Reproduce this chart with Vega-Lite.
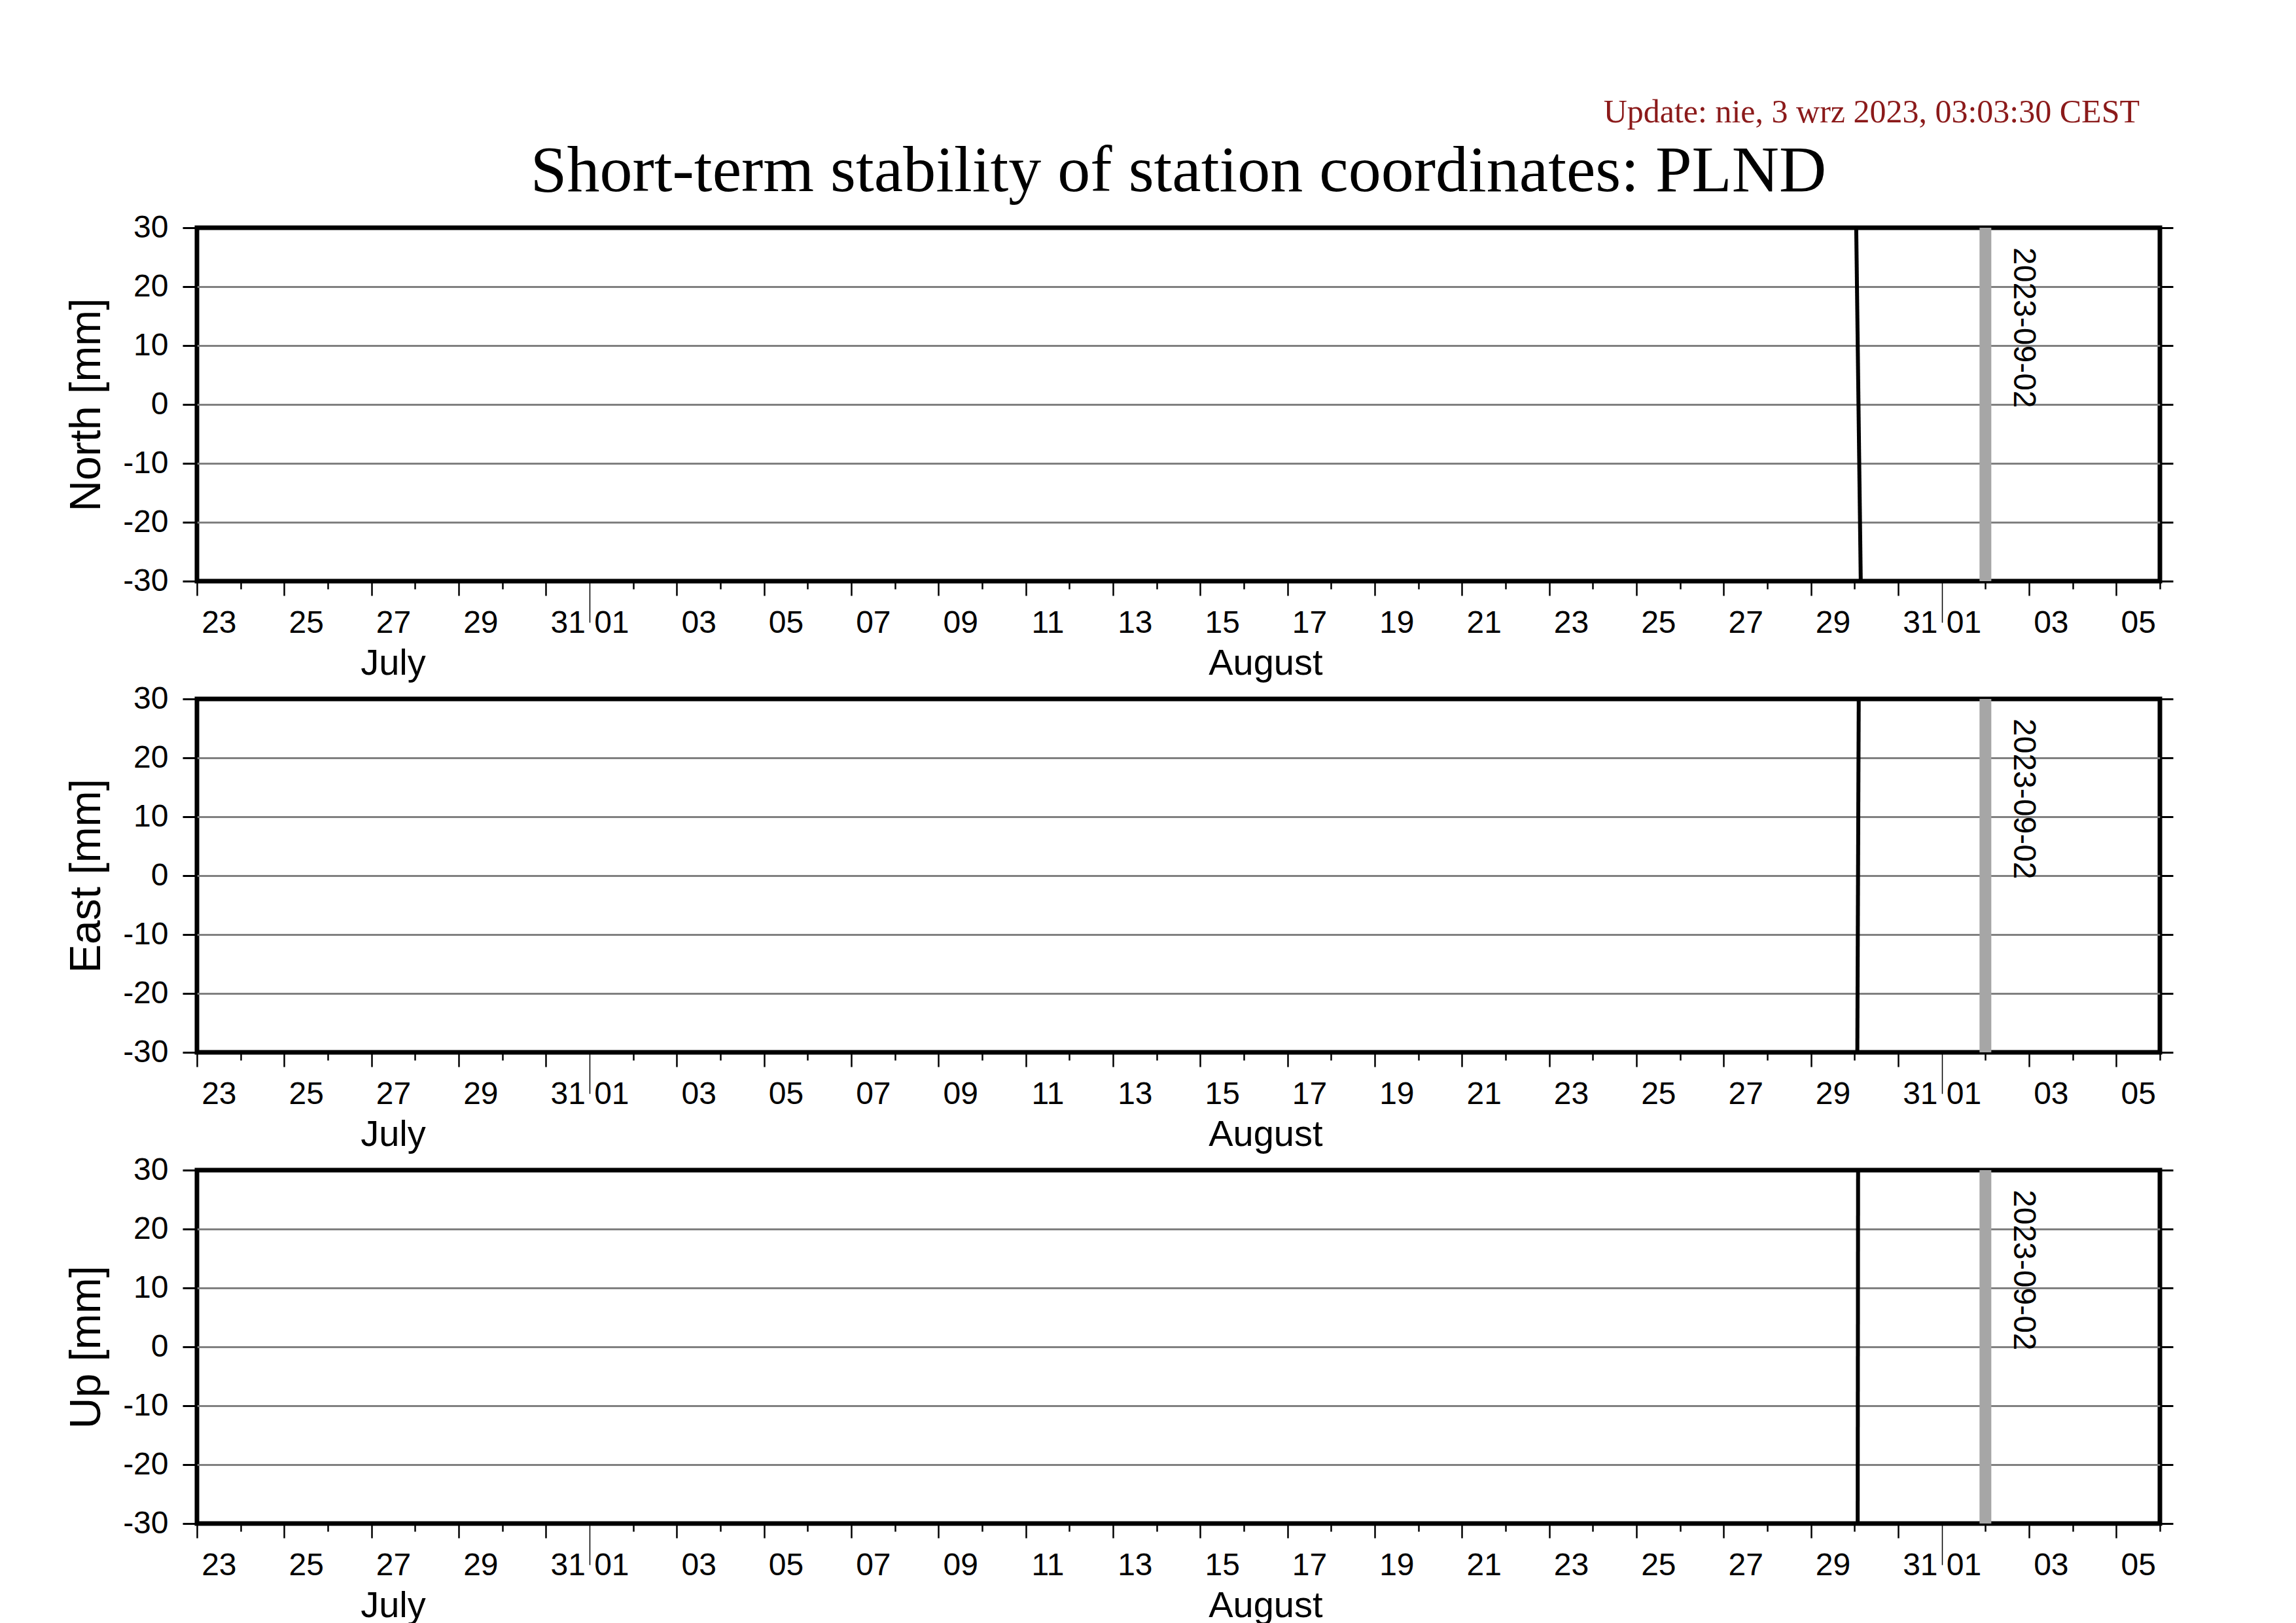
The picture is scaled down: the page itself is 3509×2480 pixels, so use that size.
{
  "$schema": "https://vega.github.io/schema/vega-lite/v6.json",
  "background": "white",
  "padding": {"left": 96, "top": 146, "right": 20, "bottom": 0},
  "title": {"text": "Update: nie, 3 wrz 2023, 03:03:30 CEST", "anchor": "end", "font": "Liberation Serif", "fontSize": 50, "fontWeight": "normal", "color": "#8b1a1a", "dx": -56, "offset": 12},
  "datasets": {
    "events": [{"date": "2023-09-02T00:00:00", "label": "2023-09-02"}],
    "months": [{"date": "2023-07-27T12:00:00", "month": "July"}, {"date": "2023-08-16T12:00:00", "month": "August"}],
    "north": [{"date": "2023-08-30T00:30:00", "mm": 40}, {"date": "2023-08-30T04:00:00", "mm": -44}],
    "east": [{"date": "2023-08-30T01:20:00", "mm": -45}, {"date": "2023-08-30T02:30:00", "mm": 45}],
    "up": [{"date": "2023-08-30T01:40:00", "mm": -45}, {"date": "2023-08-30T02:00:00", "mm": 45}]
  },
  "spacing": 180,
  "bounds": "flush",
  "vconcat": [
    {
      "width": 3000, "height": 540,
      "title": {"text": "Short-term stability of station coordinates: PLND", "anchor": "middle", "frame": "group", "font": "Liberation Serif", "fontSize": 100, "fontWeight": "normal", "color": "black", "offset": 11},
      "layer": [
        {"data": {"name": "events"}, "mark": {"type": "rule", "color": "#a6a6a6", "strokeWidth": 18},
         "encoding": {"x": {"field": "date", "type": "temporal", "scale": {"domain": [{"year": 2023, "month": 7, "date": 23}, {"year": 2023, "month": 9, "date": 6}]},
           "axis": {"orient": "bottom", "tickCount": {"interval": "day", "step": 1}, "tickSize": 12, "tickWidth": 2.5, "tickColor": "black", "tickOpacity": {"condition": {"test": "date(datum.value) % 2 == 1", "value": 0}, "value": 1}, "labels": false, "domain": false, "grid": false, "title": null}}}},
        {"data": {"name": "north"}, "mark": {"type": "line", "color": "black", "strokeWidth": 6, "clip": true},
         "encoding": {"x": {"field": "date", "type": "temporal", "scale": {"domain": [{"year": 2023, "month": 7, "date": 23}, {"year": 2023, "month": 9, "date": 6}]},
           "axis": {"orient": "bottom", "tickCount": {"interval": "day", "step": 2}, "tickSize": 22, "tickWidth": 2.5, "tickColor": "black", "tickOpacity": {"condition": {"test": "date(datum.value) == 1", "value": 0}, "value": 1}, "format": "%d", "labelFontSize": 48, "labelColor": "black", "labelOffset": 33.33, "labelPadding": 18, "labelFlush": false, "labelOverlap": false, "labelBound": false, "domain": false, "grid": false, "title": null}},
           "y": {"field": "mm", "type": "quantitative", "scale": {"domain": [-30, 30], "nice": false, "zero": false},
           "axis": {"orient": "left", "values": [-30, -20, -10, 0, 10, 20, 30], "labelExpr": "'' + datum.value", "tickSize": 22, "tickWidth": 3, "tickColor": "black", "labelFontSize": 48, "labelColor": "black", "labelPadding": 22, "labelFlush": false, "labelOverlap": false, "labelBound": false, "domain": false, "grid": true, "gridColor": "#808080", "gridWidth": 3, "gridOpacity": {"condition": {"test": "abs(datum.value) == 30", "value": 0}, "value": 1}, "title": "North [mm]", "titleFontSize": 66, "titleFontWeight": "normal", "titleColor": "black", "titlePadding": 21}}}},
        {"data": {"name": "events"}, "mark": {"type": "text", "angle": 90, "align": "left", "baseline": "middle", "dx": 30, "dy": -58, "fontSize": 48, "color": "black"},
         "encoding": {"x": {"field": "date", "type": "temporal", "scale": {"domain": [{"year": 2023, "month": 7, "date": 23}, {"year": 2023, "month": 9, "date": 6}]},
           "axis": {"orient": "bottom", "tickCount": {"interval": "month", "step": 1}, "tickSize": 63, "tickWidth": 1.5, "tickColor": "black", "labels": false, "domain": false, "grid": false, "title": null}},
           "y": {"datum": 30, "type": "quantitative", "scale": {"domain": [-30, 30], "nice": false, "zero": false},
           "axis": {"orient": "right", "values": [-30, -20, -10, 0, 10, 20, 30], "tickSize": 20, "tickWidth": 3, "tickColor": "black", "labels": false, "domain": false, "grid": false, "title": null}},
           "text": {"field": "label"}}},
        {"data": {"name": "months"}, "mark": {"type": "text", "align": "center", "baseline": "middle", "dy": 126, "fontSize": 56, "color": "black"},
         "encoding": {"x": {"field": "date", "type": "temporal", "scale": {"domain": [{"year": 2023, "month": 7, "date": 23}, {"year": 2023, "month": 9, "date": 6}]}, "axis": null},
           "y": {"datum": -30, "type": "quantitative", "scale": {"domain": [-30, 30], "nice": false, "zero": false}, "axis": null},
           "text": {"field": "month"}}}
      ],
      "resolve": {"axis": {"x": "independent", "y": "independent"}}
    },
    {
      "width": 3000, "height": 540,
      "layer": [
        {"data": {"name": "events"}, "mark": {"type": "rule", "color": "#a6a6a6", "strokeWidth": 18},
         "encoding": {"x": {"field": "date", "type": "temporal", "scale": {"domain": [{"year": 2023, "month": 7, "date": 23}, {"year": 2023, "month": 9, "date": 6}]},
           "axis": {"orient": "bottom", "tickCount": {"interval": "day", "step": 1}, "tickSize": 12, "tickWidth": 2.5, "tickColor": "black", "tickOpacity": {"condition": {"test": "date(datum.value) % 2 == 1", "value": 0}, "value": 1}, "labels": false, "domain": false, "grid": false, "title": null}}}},
        {"data": {"name": "east"}, "mark": {"type": "line", "color": "black", "strokeWidth": 6, "clip": true},
         "encoding": {"x": {"field": "date", "type": "temporal", "scale": {"domain": [{"year": 2023, "month": 7, "date": 23}, {"year": 2023, "month": 9, "date": 6}]},
           "axis": {"orient": "bottom", "tickCount": {"interval": "day", "step": 2}, "tickSize": 22, "tickWidth": 2.5, "tickColor": "black", "tickOpacity": {"condition": {"test": "date(datum.value) == 1", "value": 0}, "value": 1}, "format": "%d", "labelFontSize": 48, "labelColor": "black", "labelOffset": 33.33, "labelPadding": 18, "labelFlush": false, "labelOverlap": false, "labelBound": false, "domain": false, "grid": false, "title": null}},
           "y": {"field": "mm", "type": "quantitative", "scale": {"domain": [-30, 30], "nice": false, "zero": false},
           "axis": {"orient": "left", "values": [-30, -20, -10, 0, 10, 20, 30], "labelExpr": "'' + datum.value", "tickSize": 22, "tickWidth": 3, "tickColor": "black", "labelFontSize": 48, "labelColor": "black", "labelPadding": 22, "labelFlush": false, "labelOverlap": false, "labelBound": false, "domain": false, "grid": true, "gridColor": "#808080", "gridWidth": 3, "gridOpacity": {"condition": {"test": "abs(datum.value) == 30", "value": 0}, "value": 1}, "title": "East [mm]", "titleFontSize": 66, "titleFontWeight": "normal", "titleColor": "black", "titlePadding": 21}}}},
        {"data": {"name": "events"}, "mark": {"type": "text", "angle": 90, "align": "left", "baseline": "middle", "dx": 30, "dy": -58, "fontSize": 48, "color": "black"},
         "encoding": {"x": {"field": "date", "type": "temporal", "scale": {"domain": [{"year": 2023, "month": 7, "date": 23}, {"year": 2023, "month": 9, "date": 6}]},
           "axis": {"orient": "bottom", "tickCount": {"interval": "month", "step": 1}, "tickSize": 63, "tickWidth": 1.5, "tickColor": "black", "labels": false, "domain": false, "grid": false, "title": null}},
           "y": {"datum": 30, "type": "quantitative", "scale": {"domain": [-30, 30], "nice": false, "zero": false},
           "axis": {"orient": "right", "values": [-30, -20, -10, 0, 10, 20, 30], "tickSize": 20, "tickWidth": 3, "tickColor": "black", "labels": false, "domain": false, "grid": false, "title": null}},
           "text": {"field": "label"}}},
        {"data": {"name": "months"}, "mark": {"type": "text", "align": "center", "baseline": "middle", "dy": 126, "fontSize": 56, "color": "black"},
         "encoding": {"x": {"field": "date", "type": "temporal", "scale": {"domain": [{"year": 2023, "month": 7, "date": 23}, {"year": 2023, "month": 9, "date": 6}]}, "axis": null},
           "y": {"datum": -30, "type": "quantitative", "scale": {"domain": [-30, 30], "nice": false, "zero": false}, "axis": null},
           "text": {"field": "month"}}}
      ],
      "resolve": {"axis": {"x": "independent", "y": "independent"}}
    },
    {
      "width": 3000, "height": 540,
      "layer": [
        {"data": {"name": "events"}, "mark": {"type": "rule", "color": "#a6a6a6", "strokeWidth": 18},
         "encoding": {"x": {"field": "date", "type": "temporal", "scale": {"domain": [{"year": 2023, "month": 7, "date": 23}, {"year": 2023, "month": 9, "date": 6}]},
           "axis": {"orient": "bottom", "tickCount": {"interval": "day", "step": 1}, "tickSize": 12, "tickWidth": 2.5, "tickColor": "black", "tickOpacity": {"condition": {"test": "date(datum.value) % 2 == 1", "value": 0}, "value": 1}, "labels": false, "domain": false, "grid": false, "title": null}}}},
        {"data": {"name": "up"}, "mark": {"type": "line", "color": "black", "strokeWidth": 6, "clip": true},
         "encoding": {"x": {"field": "date", "type": "temporal", "scale": {"domain": [{"year": 2023, "month": 7, "date": 23}, {"year": 2023, "month": 9, "date": 6}]},
           "axis": {"orient": "bottom", "tickCount": {"interval": "day", "step": 2}, "tickSize": 22, "tickWidth": 2.5, "tickColor": "black", "tickOpacity": {"condition": {"test": "date(datum.value) == 1", "value": 0}, "value": 1}, "format": "%d", "labelFontSize": 48, "labelColor": "black", "labelOffset": 33.33, "labelPadding": 18, "labelFlush": false, "labelOverlap": false, "labelBound": false, "domain": false, "grid": false, "title": null}},
           "y": {"field": "mm", "type": "quantitative", "scale": {"domain": [-30, 30], "nice": false, "zero": false},
           "axis": {"orient": "left", "values": [-30, -20, -10, 0, 10, 20, 30], "labelExpr": "'' + datum.value", "tickSize": 22, "tickWidth": 3, "tickColor": "black", "labelFontSize": 48, "labelColor": "black", "labelPadding": 22, "labelFlush": false, "labelOverlap": false, "labelBound": false, "domain": false, "grid": true, "gridColor": "#808080", "gridWidth": 3, "gridOpacity": {"condition": {"test": "abs(datum.value) == 30", "value": 0}, "value": 1}, "title": "Up [mm]", "titleFontSize": 66, "titleFontWeight": "normal", "titleColor": "black", "titlePadding": 21}}}},
        {"data": {"name": "events"}, "mark": {"type": "text", "angle": 90, "align": "left", "baseline": "middle", "dx": 30, "dy": -58, "fontSize": 48, "color": "black"},
         "encoding": {"x": {"field": "date", "type": "temporal", "scale": {"domain": [{"year": 2023, "month": 7, "date": 23}, {"year": 2023, "month": 9, "date": 6}]},
           "axis": {"orient": "bottom", "tickCount": {"interval": "month", "step": 1}, "tickSize": 63, "tickWidth": 1.5, "tickColor": "black", "labels": false, "domain": false, "grid": false, "title": null}},
           "y": {"datum": 30, "type": "quantitative", "scale": {"domain": [-30, 30], "nice": false, "zero": false},
           "axis": {"orient": "right", "values": [-30, -20, -10, 0, 10, 20, 30], "tickSize": 20, "tickWidth": 3, "tickColor": "black", "labels": false, "domain": false, "grid": false, "title": null}},
           "text": {"field": "label"}}},
        {"data": {"name": "months"}, "mark": {"type": "text", "align": "center", "baseline": "middle", "dy": 126, "fontSize": 56, "color": "black"},
         "encoding": {"x": {"field": "date", "type": "temporal", "scale": {"domain": [{"year": 2023, "month": 7, "date": 23}, {"year": 2023, "month": 9, "date": 6}]}, "axis": null},
           "y": {"datum": -30, "type": "quantitative", "scale": {"domain": [-30, 30], "nice": false, "zero": false}, "axis": null},
           "text": {"field": "month"}}}
      ],
      "resolve": {"axis": {"x": "independent", "y": "independent"}}
    }
  ],
  "config": {
    "font": "Liberation Sans",
    "view": {"stroke": "black", "strokeWidth": 7},
    "axis": {"labelFont": "Liberation Sans", "titleFont": "Liberation Sans", "labelColor": "black", "titleColor": "black"},
    "text": {"font": "Liberation Sans"}
  }
}
